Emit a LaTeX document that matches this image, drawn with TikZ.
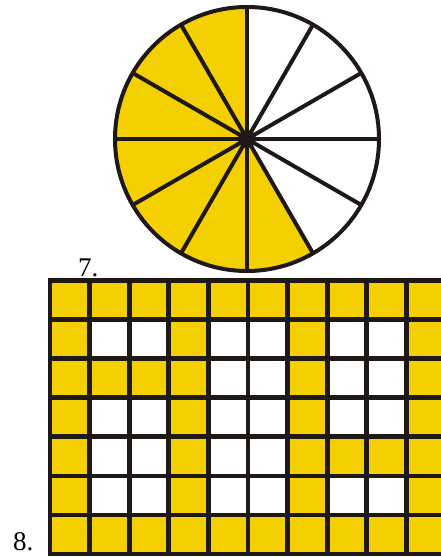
\documentclass[tikz,border=0pt]{standalone}
\usepackage{fontspec}
\setmainfont{Liberation Serif}
\usepackage{xcolor}
\usetikzlibrary{positioning}
\definecolor{fracyellow}{RGB}{245,208,0}
\definecolor{inkline}{RGB}{30,25,22}

\begin{document}
\begin{tikzpicture}[x=1pt,y=1pt,
  every node/.style={font=\fontsize{27}{30}\selectfont,inner sep=0pt,anchor=base west},
  rim/.style={draw=inkline,line width=4pt},
  spoke/.style={draw=inkline,line width=4pt},
  gridline/.style={draw=inkline,line width=4.7pt,line cap=rect}]
\useasboundingbox (0,0) rectangle (441,557);
\clip (0,0) rectangle (441,557);
% circle, 7 of 12 parts
\coordinate (c) at (247,418);
\fill[fracyellow] (c) -- ++(90:132) arc[start angle=90,end angle=300,radius=132] -- cycle;
\foreach \a in {0,30,...,330}
  \draw[spoke] (c) -- ++(\a:132);
\draw[rim] (c) circle[radius=132];
\fill[inkline] (c) circle[radius=9];
\node (lab7) at (78,280) {7.};
% grid, 7 rows
\fill[fracyellow] (50,3) rectangle (446,276.35);
\foreach \r/\c in {2/2,2/3,2/5,2/6,2/8,2/9,
                   3/5,3/6,3/8,3/9,
                   4/2,4/3,4/5,4/6,4/8,4/9,
                   5/2,5/3,5/5,5/6,
                   6/2,6/3,6/5,6/6,6/8,6/9}
  \fill[white] ({50+(\c-1)*39.6},{276.35-\r*39.05}) rectangle ++(39.6,39.05);
\foreach \i in {0,...,10}
  \draw[gridline] ({50+\i*39.6},3) -- ({50+\i*39.6},276.35);
\foreach \j in {0,...,7}
  \draw[gridline] (50,{3+\j*39.05}) -- (446,{3+\j*39.05});
\node (lab8) at (13,6) {8.};
\end{tikzpicture}
\end{document}
